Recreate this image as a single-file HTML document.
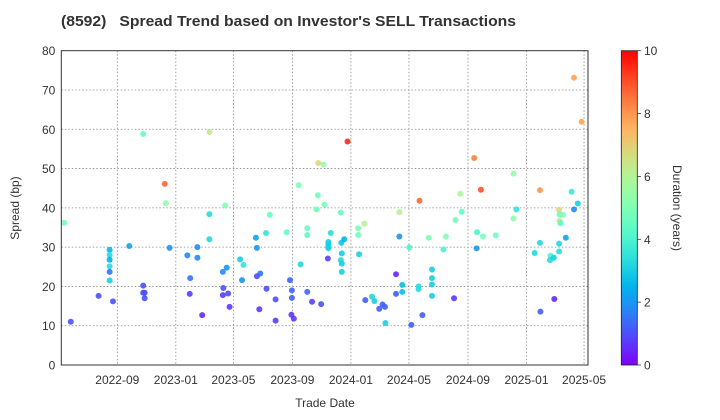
<!DOCTYPE html>
<html><head><meta charset="utf-8"><style>
html,body{margin:0;padding:0;background:#fff;}
svg{display:block;font-family:"Liberation Sans",Arial,sans-serif;}
</style></head><body>
<svg id="chart" width="720" height="420" viewBox="0 0 720 420" xmlns="http://www.w3.org/2000/svg">
<defs>
<linearGradient id="cbgrad" x1="0" y1="1" x2="0" y2="0"></linearGradient>
</defs>
<text x="61" y="26" font-size="15" font-weight="bold" fill="#333" textLength="455" lengthAdjust="spacingAndGlyphs" xml:space="preserve">(8592)   Spread Trend based on Investor's SELL Transactions</text>
<g id="grid"></g>
<g id="points"></g>
<rect x="61.3" y="50.7" width="526.7" height="314.3" fill="none" stroke="#333" stroke-width="1"/>
<g id="yaxis"></g>
<g id="xaxis"></g>
<text transform="translate(19,208) rotate(-90)" text-anchor="middle" font-size="12" fill="#333">Spread (bp)</text>
<text x="325" y="407" text-anchor="middle" font-size="12" fill="#333">Trade Date</text>
<g id="colorbar"></g>
<text transform="translate(673,208) rotate(90)" text-anchor="middle" font-size="12" fill="#333">Duration (years)</text>
</svg>
<script>
const dates = ["2022-05-13","2022-05-27","2022-07-24","2022-08-16","2022-08-16","2022-08-16","2022-08-16","2022-08-16","2022-08-16","2022-08-23","2022-09-26","2022-10-25","2022-10-25","2022-10-25","2022-10-28","2022-10-28",
"2022-12-09","2022-12-11","2022-12-19","2023-03-12","2023-03-12","2023-03-12","2023-01-25","2023-02-15","2023-02-15","2023-01-31","2023-01-30","2023-02-25","2023-04-14","2023-04-09","2023-04-17","2023-04-10","2023-04-09","2023-04-20","2023-04-23","2023-05-15","2023-05-22","2023-05-19","2023-06-17","2023-06-19","2023-06-26","2023-06-19","2023-06-24","2023-07-08",
"2023-07-16","2023-07-09","2023-07-28","2023-07-28","2023-08-20","2023-08-27","2023-08-31","2023-08-31","2023-08-30","2023-09-04","2023-09-14","2023-09-18","2023-10-02","2023-10-02","2023-10-02","2023-10-12","2023-10-24","2023-10-21","2023-10-25","2023-11-05","2023-11-07","2023-10-31","2023-11-14","2023-11-20","2023-11-15","2023-11-15","2023-11-15","2023-11-15","2023-12-11","2023-12-12","2023-12-18","2023-12-13","2023-12-11","2023-12-13","2023-12-13","2023-12-25","2024-01-16","2024-01-16","2024-01-29","2024-01-18","2024-01-31","2024-02-14","2024-02-19","2024-02-29",
"2024-03-07","2024-03-12","2024-03-13","2024-04-04","2024-04-04","2024-04-11","2024-04-11","2024-04-17","2024-04-17","2024-05-02","2024-05-06","2024-05-23","2024-05-21","2024-05-21","2024-05-29","2024-06-11","2024-06-18","2024-06-18","2024-06-18","2024-06-18","2024-07-12","2024-07-17","2024-08-03","2024-08-06","2024-08-16","2024-08-19","2024-09-14","2024-09-28","2024-09-19","2024-09-20","2024-10-02",
"2024-10-29","2024-12-05","2024-12-05","2024-12-11","2025-01-18","2025-01-29","2025-01-29","2025-01-30","2025-02-20","2025-02-19","2025-02-27","2025-02-28","2025-03-10","2025-03-11","2025-03-18","2025-03-11","2025-03-13","2025-03-10","2025-03-10","2025-03-24","2025-04-05","2025-04-10","2025-04-18","2025-04-10","2025-04-26"];
const spreads = [36.2,11.0,17.6,29.3,28.0,26.8,25.1,23.7,21.5,16.2,30.3,58.8,20.2,18.4,18.4,17.0,
46.1,41.2,29.8,59.3,38.4,32.0,27.9,30.0,27.3,22.1,18.1,12.7,40.6,23.7,24.8,19.6,17.8,18.2,14.8,26.9,25.5,21.6,32.4,29.8,23.3,22.6,14.2,33.6,
38.2,19.4,16.7,11.3,33.8,21.6,19.0,17.1,12.8,11.8,45.8,25.6,18.6,34.8,33.1,16.1,43.2,39.6,51.4,51.0,40.8,15.5,27.1,33.6,31.3,30.7,30.1,29.7,38.8,31.1,32.0,28.4,26.7,25.8,23.7,56.9,34.8,33.1,36.0,28.2,16.5,17.4,16.3,14.3,
15.4,14.8,10.7,18.1,23.1,38.9,32.7,18.6,20.4,29.9,10.2,41.8,19.3,20.0,12.7,32.4,24.3,22.1,20.5,17.6,29.4,32.7,17.0,36.9,43.6,39.0,52.7,44.6,29.7,33.8,32.7,
33.0,48.7,37.3,39.6,28.5,44.5,31.1,13.6,27.8,26.7,27.3,16.8,39.5,38.3,38.2,36.7,36.1,30.9,28.9,32.4,44.1,39.6,41.1,73.1,61.9];
const durations = [4.8,1.0,1.0,2.6,3.3,2.5,3.3,1.5,3.0,1.0,2.2,4.5,1.0,1.0,1.0,1.0,
8.7,5.3,2.0,6.3,3.3,3.2,1.8,1.8,1.8,1.5,0.7,0.5,5.0,1.8,2.0,1.0,0.8,1.0,0.7,3.0,3.5,2.0,2.2,2.0,1.5,1.0,0.7,3.5,
4.5,1.0,1.0,0.7,4.5,1.3,1.3,1.2,0.7,0.7,5.0,3.2,1.3,4.5,4.3,0.8,4.7,4.7,6.8,5.5,4.8,1.0,0.8,3.3,3.0,3.0,3.0,3.0,4.5,2.8,2.5,3.0,3.2,3.0,3.0,9.5,5.0,4.7,6.0,3.0,1.2,3.2,3.0,1.2,
1.2,1.2,3.0,1.2,0.5,6.0,2.0,2.7,2.7,4.0,1.2,8.7,3.3,3.3,1.2,5.0,3.0,3.0,3.0,3.0,4.0,5.0,0.7,4.7,5.8,4.3,8.3,9.0,2.0,4.0,4.8,
4.7,5.5,5.3,3.5,3.2,8.0,3.2,1.2,4.0,3.3,3.0,0.5,6.8,4.5,5.0,6.5,4.3,3.2,3.3,2.2,3.7,1.8,3.0,7.8,7.8];
const yTicks = [0,10,20,30,40,50,60,70,80];
const xTickLabels = ["2022-09","2023-01","2023-05","2023-09","2024-01","2024-05","2024-09","2025-01","2025-05"];
const cbTicks = [0,2,4,6,8,10];

const NS = "http://www.w3.org/2000/svg";
const L = 61.3, R = 588, T = 50.7, B = 365;
const DAY = 86400000;
const ref = Date.UTC(2022,8,1);
function dayOf(s){const p=s.split("-").map(Number);return (Date.UTC(p[0],p[1]-1,p[2]||1)-ref)/DAY;}
const xScale = d => 117.3 + dayOf(d)*0.4797;
const yScale = v => B - (v-0)/(80-0)*(B-T);
function rainbow(t){t=Math.max(0,Math.min(1,t));
 const r=Math.min(1,Math.abs(2*t-0.5)), g=Math.sin(Math.PI*t), b=Math.cos(Math.PI*t/2);
 return "rgb("+Math.round(r*255)+","+Math.round(g*255)+","+Math.round(Math.max(0,b)*255)+")";}
function mk(tag,attrs,parent){const e=document.createElementNS(NS,tag);for(const k in attrs)e.setAttribute(k,attrs[k]);parent.appendChild(e);return e;}

const grid=document.getElementById("grid"), yax=document.getElementById("yaxis"), xax=document.getElementById("xaxis");
yTicks.forEach(v=>{
 const y=yScale(v);
 if(v>0&&v<80){const g=mk("line",{x1:L,x2:R,y1:y,y2:y,stroke:"#888","stroke-width":0.8,"stroke-dasharray":"1.5,2"},grid);
 
 }
 const t=mk("text",{x:L-6,y:y+4.5,"text-anchor":"end","font-size":12,fill:"#333"},yax);
 
 
 t.textContent=v;
});
xTickLabels.forEach(s=>{
 const x=xScale(s+"-01");
 const g=mk("line",{x1:x,x2:x,y1:T,y2:B,stroke:"#888","stroke-width":0.8,"stroke-dasharray":"1.5,2"},grid);
 
 
 const t=mk("text",{x:x,y:B+19,"text-anchor":"middle","font-size":12,fill:"#333"},xax);
 
 
 t.textContent=s;
});
const pts=document.getElementById("points");
dates.forEach((d,i)=>{
 const c=mk("circle",{cx:xScale(d),cy:yScale(spreads[i]),r:3,fill:rainbow(durations[i]/10),"fill-opacity":0.9},pts);
 
 
});
// colorbar
const grad=document.getElementById("cbgrad");
for(let k=0;k<=20;k++){mk("stop",{offset:(k/20),"stop-color":rainbow(k/20)},grad);}
const cb=document.getElementById("colorbar");
const cbr=mk("rect",{x:621.3,y:T,width:16,height:B-T,fill:"url(#cbgrad)",stroke:"#222","stroke-width":0.8},cb);


cbTicks.forEach(v=>{
 const y=B-v/10*(B-T);
 mk("line",{x1:637.3,x2:641,y1:y,y2:y,stroke:"#333","stroke-width":0.8},cb);
 const t=mk("text",{x:644,y:y+4.5,"font-size":12,fill:"#333"},cb);
 
 
 t.textContent=v;
});
</script>
</body></html>
